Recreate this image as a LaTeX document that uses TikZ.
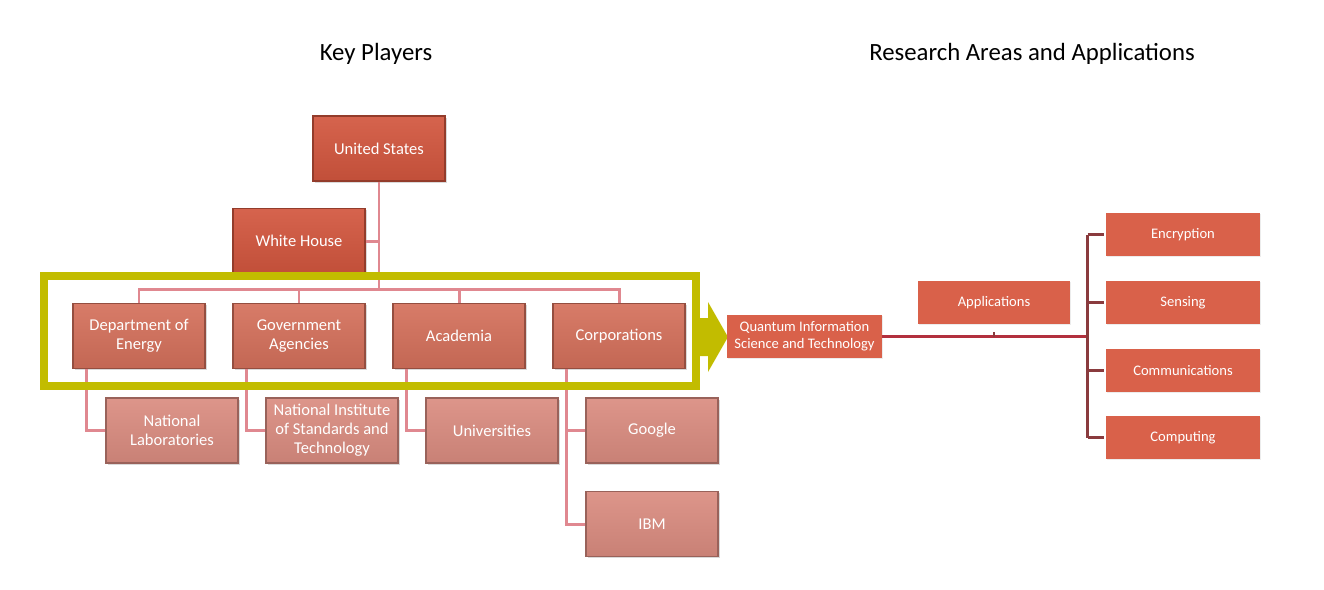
\documentclass[tikz,border=0pt]{standalone}
\usepackage{fontspec}
\setmainfont{Carlito}
\usetikzlibrary{positioning,calc,shadows}

\definecolor{topred}{HTML}{D2563E}
\definecolor{midred}{HTML}{D4705B}
\definecolor{lowred}{HTML}{DA8C80}
\definecolor{apred}{HTML}{D9614A}
\definecolor{linkpink}{HTML}{E08890}
\definecolor{framegreen}{HTML}{C2BC00}
\definecolor{qline}{HTML}{B2303E}
\definecolor{brkbrown}{HTML}{8A3B3E}

\begin{document}
\begin{tikzpicture}[
    x=0.02cm, y=-0.02cm,
    every node/.style={font=\fontsize{9.4}{10.8}\selectfont, text=white, align=center},
    box/.style={rectangle, minimum width=2.64cm, minimum height=1.3cm, inner sep=2pt,
                draw=#1!70!black, line width=0.6pt,
                top color=#1!92!white, bottom color=#1!92!black,
                drop shadow={opacity=0.3, shadow xshift=1pt, shadow yshift=-1pt}},
    flatbox/.style={rectangle, minimum width=3.08cm, minimum height=0.86cm, inner sep=2pt,
                    fill=apred, font=\fontsize{8.3}{9.6}\selectfont,
                    drop shadow={opacity=0.15, shadow xshift=0.8pt, shadow yshift=-0.8pt}},
    link/.style={draw=linkpink, line width=1.7pt},
    title/.style={text=black, font=\fontsize{14.1}{16}\selectfont}
]
\useasboundingbox (0,0) rectangle (1324,589);

% titles
\node[title] (kp) at (376,54) {Key Players};
\node[title] (ra) at (1032,54) {Research Areas and Applications};

% key players tree
\node[box=topred] (us) at (379,148.5) {United States};
\node[box=topred] (wh) at (299,241) {White House};

\node[box=midred] (doe)  at (139,336) {Department of\\Energy};
\node[box=midred] (gov)  at (299,336) {Government\\Agencies};
\node[box=midred] (acad) at (459,336) {Academia};
\node[box=midred] (corp) at (619,336) {Corporations};

\node[box=lowred] (natlab) at (172,430.5) {National\\Laboratories};
\node[box=lowred] (nist)   at (332,430.5) {National Institute\\of Standards and\\Technology};
\node[box=lowred] (univ)   at (492,430.5) {Universities};
\node[box=lowred] (google) at (652,430.5) {Google};
\node[box=lowred] (ibm)    at (652,524) {IBM};

\coordinate (bus) at (379,289);

\draw[link] (us.south) -- (bus);
\draw[link] (wh.east) -- (wh.east -| us.south);
\foreach \n in {doe,gov,acad,corp}
    \draw[link] (bus) -| (\n.north);
\draw[link] ($(doe.south west)+(14,0)$) |- (natlab.west);
\draw[link] ($(gov.south west)+(14,0)$) |- (nist.west);
\draw[link] ($(acad.south west)+(14,0)$) |- (univ.west);
\draw[link] ($(corp.south west)+(14,0)$) |- (google.west);
\draw[link] ($(corp.south west)+(14,0)$) |- (ibm.west);

% highlight frame and arrow
\draw[framegreen, line width=0.16cm] (44,276) rectangle (696,386);
\fill[framegreen] (700,318) -- (708,318) -- (708,302) -- (728,337)
    -- (708,372) -- (708,356) -- (700,356) -- cycle;

% research areas
\node[flatbox, minimum width=3.1cm] (qist) at (804.5,336.5) {Quantum Information\\Science and Technology};
\node[flatbox, minimum width=3.04cm] (apps) at (994,302.5) {Applications};

\node[flatbox] (enc)  at (1183,234.5) {Encryption};
\node[flatbox] (sens) at (1183,302.5) {Sensing};
\node[flatbox] (comm) at (1183,370.5) {Communications};
\node[flatbox] (comp) at (1183,437.5) {Computing};

\coordinate (brk) at (1088,336.5);
\draw[qline, line width=1.6pt] (qist.east) -- (brk);
\draw[brkbrown, line width=1.6pt] (apps.south |- brk) -- ++(0,-5);
\draw[brkbrown, line width=1.6pt] ($(enc.west)+(-18,0)$) -- ($(comp.west)+(-18,0)$);
\foreach \n in {enc,sens,comm,comp}
    \draw[brkbrown, line width=1.6pt] ($(\n.west)+(-18,0)$) -- ($(\n.west)+(-2,0)$);

\end{tikzpicture}
\end{document}
